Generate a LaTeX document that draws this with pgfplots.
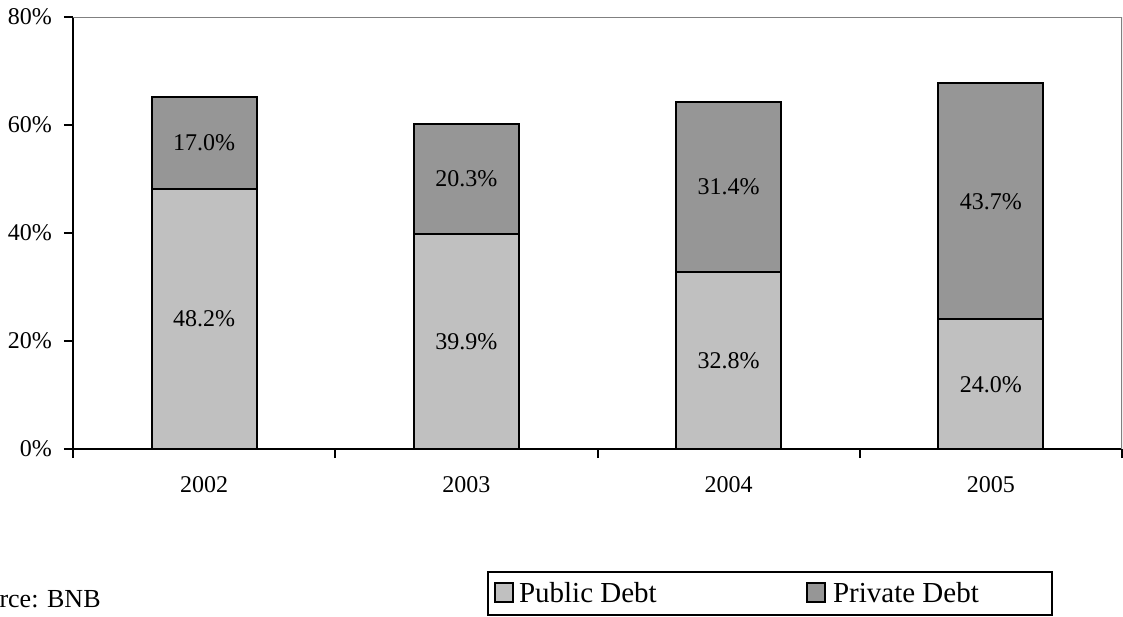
\documentclass[border=0pt]{standalone}
\usepackage{fontspec}
\setmainfont{Liberation Serif}
\usepackage{pgfplots}
\pgfplotsset{compat=1.18}
\usepackage{pgfplotstable}
\definecolor{pubc}{RGB}{192,192,192}
\definecolor{privc}{RGB}{150,150,150}
\definecolor{framec}{RGB}{128,128,128}

\pgfplotstableread{
x pub priv
0 48.2 17.0
1 39.9 20.3
2 32.8 31.4
3 24.0 43.7
}\debt

\begin{document}
\begin{tikzpicture}
\useasboundingbox (0,0) rectangle (561.5pt,308pt);
\pgfplotsset{base/.style={scale only axis, width=524.5pt, height=216pt, at={(36.5pt,83.5pt)}, anchor=south west, xmin=-0.5, xmax=3.5, ymin=0, ymax=80, /pgf/number format/assume math mode=true}}
\begin{axis}[base,
  axis x line*=bottom, axis y line*=left,
  axis line style={line width=1pt, -},
  ybar stacked, bar width=0.4,
  xtick={0,1,2,3}, xticklabels={2002,2003,2004,2005},
  minor xtick={-0.5,0.5,1.5,2.5,3.5},
  ytick={0,20,40,60,80},
  yticklabel={\pgfmathprintnumber{\tick}\%},
  tick align=outside,
  major tick length=4.5pt, minor tick length=4.5pt,
  tick style={black, line width=1pt},
  major x tick style={draw=none},
  tick label style={font=\fontsize{12}{14}\selectfont},
  xticklabel style={yshift=-5.5pt},
  yticklabel style={xshift=-2.5pt},
  legend columns=2,
  legend image code/.code={\draw[#1] (0pt,-4pt) rectangle (9pt,5.5pt);},
  legend style={at={(0.3947,-0.2824)}, anchor=north west, draw=black, line width=1pt, inner xsep=3pt, inner ysep=4.9pt, font=\fontsize{14.5}{17}\selectfont, nodes={inner sep=0pt}, column sep=0pt},
]
\addplot[fill=pubc, draw=black, line width=1pt] table[x=x,y=pub]{\debt};
\addlegendentry{\makebox[146pt][l]{\hspace{2.5pt}Public Debt}}
\addplot[fill=privc, draw=black, line width=1pt] table[x=x,y=priv]{\debt};
\addlegendentry{\makebox[110pt][l]{\hspace{3.5pt}Private Debt}}
\draw[framec, line width=1pt] (rel axis cs:0,1) -- (rel axis cs:1,1) -- (rel axis cs:1,0);
\end{axis}
\begin{axis}[base, hide axis, clip=false]
\addplot[draw=none, mark=none, point meta=\thisrow{pub},
  nodes near coords={\pgfmathprintnumber[fixed,fixed zerofill,precision=1]{\pgfplotspointmeta}\%},
  nodes near coords style={anchor=center, font=\fontsize{12}{14}\selectfont}]
  table[x=x, y expr=\thisrow{pub}/2]{\debt};
\addplot[draw=none, mark=none, point meta=\thisrow{priv},
  nodes near coords={\pgfmathprintnumber[fixed,fixed zerofill,precision=1]{\pgfplotspointmeta}\%},
  nodes near coords style={anchor=center, font=\fontsize{12}{14}\selectfont}]
  table[x=x, y expr=\thisrow{pub}+\thisrow{priv}/2]{\debt};
\end{axis}
\node[anchor=base east, font=\fontsize{13}{15}\selectfont, inner sep=0pt] at (50.5pt,4.5pt) {Source: BNB};
\end{tikzpicture}
\end{document}
